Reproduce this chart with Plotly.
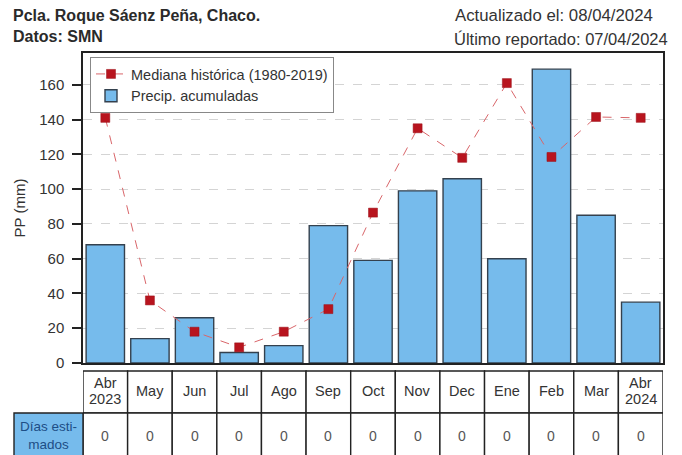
import plotly.graph_objects as go

month_labels = ["Abr", "May", "Jun", "Jul", "Ago", "Sep", "Oct", "Nov", "Dec", "Ene", "Feb", "Mar", "Abr"]
year_labels = ["2023", "", "", "", "", "", "", "", "", "", "", "", "2024"]
precip = [68, 14, 26, 6, 10, 79, 59, 99, 106, 60, 169, 85, 35]
mediana = [141, 36, 18, 9, 18, 31, 86.5, 135, 118, 161, 118.5, 141.5, 141]
dias_estimados = [0, 0, 0, 0, 0, 0, 0, 0, 0, 0, 0, 0, 0]
yticks = [0, 20, 40, 60, 80, 100, 120, 140, 160]

W, H = 682, 455
PL, PR, PT, PB = 83, 663, 53, 363
FONT = "Liberation Sans, Arial, sans-serif"
NARROW = "Liberation Sans Narrow, Arial Narrow, Liberation Sans, sans-serif"


def px(xp):
    return (xp - PL) / (PR - PL)


def py(yp):
    return (PB - yp) / (PB - PT)


xs = list(range(len(month_labels)))

fig = go.Figure()
fig.add_trace(go.Bar(
    x=xs, y=precip, width=0.86,
    marker=dict(color="#76bbec", line=dict(color="#34414e", width=1.4)),
    name="Precip. acumuladas",
))
fig.add_trace(go.Scatter(
    x=xs, y=mediana, mode="lines+markers",
    line=dict(color="#d9666a", width=1, dash="dash"),
    marker=dict(symbol="square", size=9, color="#b8141e", line=dict(color="#9a1018", width=0.5)),
    name="Mediana histórica (1980-2019)",
))

shapes = []
annotations = []
row1_top, row_mid, row2_bot = py(371), py(413), py(462)
for i, (m, yr, d) in enumerate(zip(month_labels, year_labels, dias_estimados)):
    shapes.append(dict(type="rect", xref="x", yref="paper", x0=i - 0.5, x1=i + 0.5,
                       y0=row_mid, y1=row1_top, line=dict(color="#222", width=1.4),
                       fillcolor="white", layer="above"))
    shapes.append(dict(type="rect", xref="x", yref="paper", x0=i - 0.5, x1=i + 0.5,
                       y0=row2_bot, y1=row_mid, line=dict(color="#222", width=1.4),
                       fillcolor="white", layer="above"))
    if yr:
        annotations.append(dict(x=i, y=py(383), xref="x", yref="paper", text=m, showarrow=False,
                                xanchor="center", yanchor="middle",
                                font=dict(family=NARROW, size=14.5, color="#333")))
        annotations.append(dict(x=i, y=py(399), xref="x", yref="paper", text=yr, showarrow=False,
                                xanchor="center", yanchor="middle",
                                font=dict(family=NARROW, size=14.5, color="#333")))
    else:
        annotations.append(dict(x=i, y=py(391), xref="x", yref="paper", text=m, showarrow=False,
                                xanchor="center", yanchor="middle",
                                font=dict(family=NARROW, size=14.5, color="#333")))
    annotations.append(dict(x=i, y=py(436), xref="x", yref="paper", text=str(d), showarrow=False,
                            xanchor="center", yanchor="middle",
                            font=dict(family=NARROW, size=14, color="#555")))

shapes.append(dict(type="rect", xref="paper", yref="paper", x0=px(14), x1=0,
                   y0=row2_bot, y1=row_mid, line=dict(color="#222", width=1.4),
                   fillcolor="#76bbec", layer="above"))
annotations.append(dict(x=px(14) / 2, y=py(435), xref="paper", yref="paper",
                        text="Días esti-<br>mados", showarrow=False, xanchor="center", yanchor="middle",
                        font=dict(family=NARROW, size=13.5, color="#1d4e86")))

# header texts
annotations += [
    dict(x=px(11), y=py(26), xref="paper", yref="paper",
         text="<b>Pcla. Roque Sáenz Peña, Chaco.</b><br><b>Datos: SMN</b>",
         showarrow=False, xanchor="left", yanchor="middle", align="left",
         font=dict(family=FONT, size=16, color="#2a2a2a")),
    dict(x=px(453), y=py(15), xref="paper", yref="paper", text="Actualizado el: 08/04/2024",
         showarrow=False, xanchor="left", yanchor="middle", font=dict(family=FONT, size=16.8, color="#333")),
    dict(x=px(452), y=py(39), xref="paper", yref="paper", text="Último reportado: 07/04/2024",
         showarrow=False, xanchor="left", yanchor="middle", font=dict(family=FONT, size=16.5, color="#333")),
]

fig.update_layout(
    template="none",
    width=W, height=H,
    margin=dict(l=PL, r=W - PR, t=PT, b=H - PB, pad=0),
    paper_bgcolor="white", plot_bgcolor="white",
    font=dict(family=FONT, size=15, color="#333"),
    showlegend=True,
    legend=dict(x=px(90), y=py(57), xanchor="left", yanchor="top",
                bgcolor="white", bordercolor="#888", borderwidth=1,
                font=dict(size=14.5, color="#333"), traceorder="reversed",
                tracegroupgap=0, itemwidth=30),
    xaxis=dict(range=[-0.5, len(month_labels) - 0.5], showticklabels=False, ticks="",
               showgrid=False, zeroline=False, showline=True, linecolor="#222", linewidth=1.5,
               mirror=True, automargin=False),
    yaxis=dict(range=[0, 178.3], tickvals=yticks, ticks="outside", ticklen=9, tickwidth=1.5,
               tickcolor="#222", ticklabelstandoff=5, showline=True, linecolor="#222", linewidth=1.5,
               mirror=True, automargin=False,
               showgrid=True, gridcolor="#d4d4d4", griddash="dash", gridwidth=1, zeroline=False,
               title=dict(text="PP (mm)", standoff=10, font=dict(size=15, color="#333")),
               tickfont=dict(size=15, color="#333")),
    shapes=shapes, annotations=annotations, bargap=0.1,
)

fig.write_html("out.html", config={"displayModeBar": False},
               post_script="document.body.style.margin='0';document.body.style.padding='0';")
